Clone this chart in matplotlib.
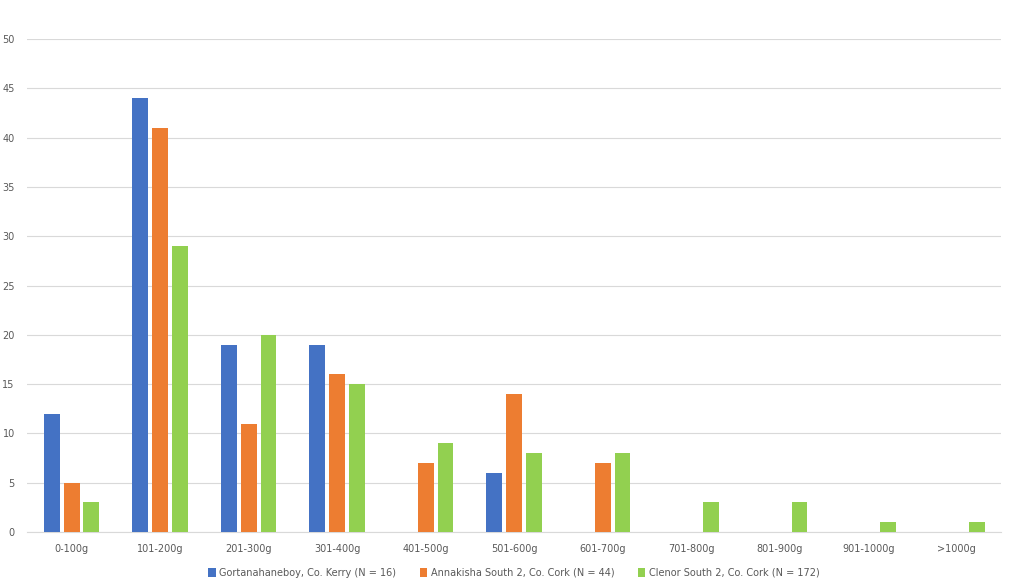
import matplotlib.pyplot as plt
import numpy as np

categories = ['0-100g', '101-200g', '201-300g', '301-400g', '401-500g', '501-600g',
              '601-700g', '701-800g', '801-900g', '901-1000g', '>1000g']
gortanahaneboy = [12, 44, 19, 19, 0, 6, 0, 0, 0, 0, 0]
annakisha = [5, 41, 11, 16, 7, 14, 7, 0, 0, 0, 0]
clenor = [3, 29, 20, 15, 9, 8, 8, 3, 3, 1, 1]
labels = ['Gortanahaneboy, Co. Kerry (N = 16)',
          'Annakisha South 2, Co. Cork (N = 44)',
          'Clenor South 2, Co. Cork (N = 172)']
colors = ['#4472C4', '#ED7D31', '#92D050']

fig = plt.figure(figsize=(10.11, 5.85), dpi=100)
ax = fig.add_axes([0.027, 0.0906, 0.963, 0.8424])

x = np.arange(len(categories))
w = 0.18
step = 0.225
for i, (vals, lab, c) in enumerate(zip([gortanahaneboy, annakisha, clenor], labels, colors)):
    ax.bar(x + (i - 1) * step, vals, width=w, color=c, label=lab, zorder=3)

ax.set_xlim(-0.5, len(categories) - 0.5)
ax.set_ylim(0, 50)
ax.set_yticks(range(0, 51, 5))
ax.set_xticks(x)
ax.set_xticklabels(categories)
ax.grid(axis='y', color='#d9d9d9', linewidth=0.8, zorder=0)
for s in ['top', 'right', 'left']:
    ax.spines[s].set_visible(False)
ax.spines['bottom'].set_color('#d9d9d9')
ax.tick_params(axis='both', length=0, labelsize=7, colors='#595959')
ax.tick_params(axis='x', pad=9)
ax.tick_params(axis='y', pad=9)

ax.legend(loc='upper center', bbox_to_anchor=(0.5, -0.055), ncol=3, frameon=False,
          fontsize=7, labelcolor='#595959', handlelength=0.75, handleheight=0.9,
          handletextpad=0.4, columnspacing=2.4)

fig.savefig('out.png', dpi=100)
